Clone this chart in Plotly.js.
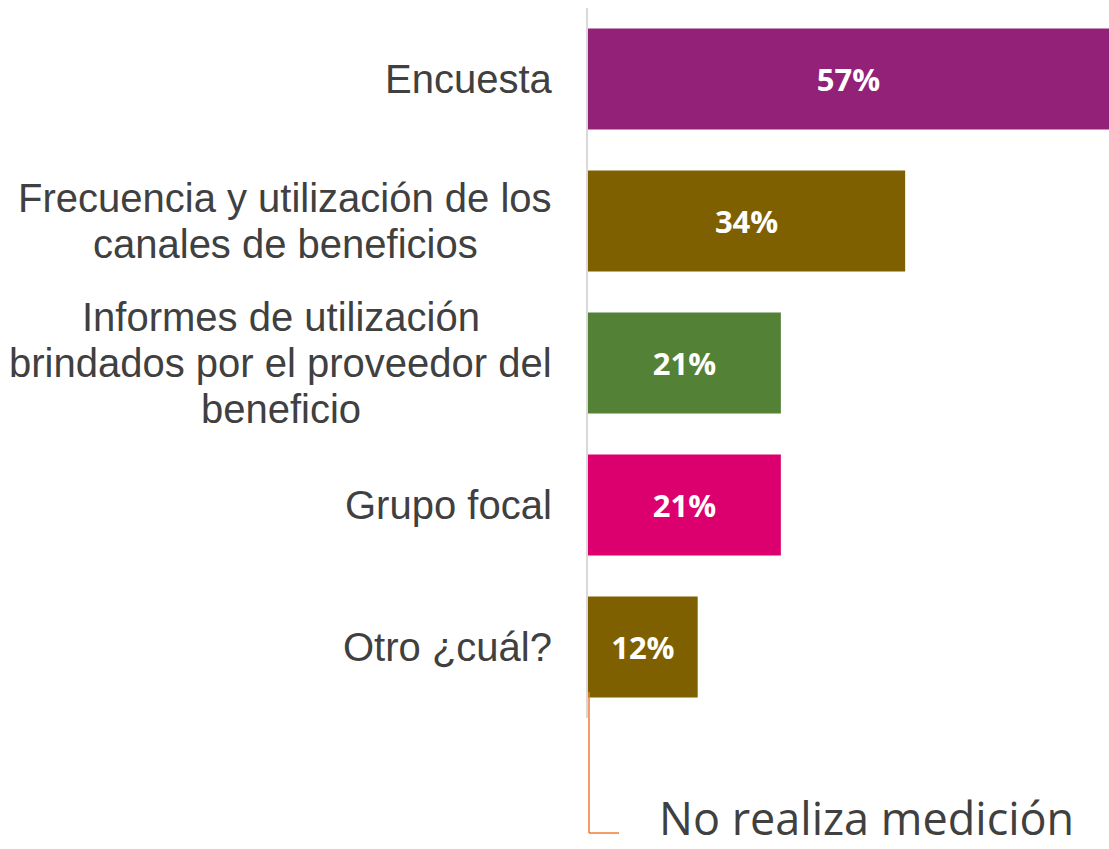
<!DOCTYPE html>
<html>
<head>
<meta charset="utf-8">
<script src="https://cdn.plot.ly/plotly-3.0.1.min.js"></script>
<style>
  html, body { margin: 0; padding: 0; background: #ffffff; }
  #chart { width: 1109px; height: 849px; }
</style>
</head>
<body>
<div id="chart"></div>
<script>
const categories = [
  "Encuesta",
  "Frecuencia y utilización de los<br>canales de beneficios",
  "Informes de utilización<br>brindados por el proveedor del<br>beneficio",
  "Grupo focal",
  "Otro ¿cuál?"
];
const values = [57, 34.7, 21.1, 21.1, 12];
const valueLabels = ["57%", "34%", "21%", "21%", "12%"];
const barColors = ["#922177", "#7F6000", "#538135", "#DB006E", "#7F6000"];
const calloutText = "No realiza medición";

const LABEL_FONT = "'Liberation Sans', Arial, sans-serif";
const LABEL_SIZE = 40;
const LINE_H = 46;
const GAP = 36;

// measure text widths so multi-line labels can be centred with tight line spacing
const cv = document.createElement("canvas");
const ctx = cv.getContext("2d");
ctx.font = LABEL_SIZE + "px " + LABEL_FONT;

const trace = {
  type: "bar",
  orientation: "h",
  y: categories,
  x: values,
  text: valueLabels,
  textposition: "inside",
  insidetextanchor: "middle",
  textangle: 0,
  textfont: { family: "'Open Sans', sans-serif", size: 31, color: "#ffffff", weight: "bold" },
  marker: { color: barColors, line: { width: 0 } },
  width: 0.71,
  hoverinfo: "none",
  cliponaxis: false
};

const catAnnotations = [];
categories.forEach(c => {
  const lines = c.split("<br>");
  const widths = lines.map(l => ctx.measureText(l).width);
  const W = Math.max.apply(null, widths);
  const n = lines.length;
  lines.forEach((l, i) => {
    catAnnotations.push({
      xref: "paper", yref: "y",
      x: 0, y: c,
      xanchor: "center", yanchor: "middle",
      xshift: -GAP - W / 2,
      yshift: -(i - (n - 1) / 2) * LINE_H,
      text: l,
      showarrow: false,
      borderpad: 0,
      font: { family: LABEL_FONT, size: LABEL_SIZE, color: "#404040" }
    });
  });
});

const layout = {
  width: 1109,
  height: 849,
  margin: { l: 588, r: 0, t: 8, b: 131 },
  paper_bgcolor: "#ffffff",
  plot_bgcolor: "#ffffff",
  showlegend: false,
  font: { family: LABEL_FONT },
  xaxis: {
    range: [0, 57],
    visible: false,
    fixedrange: true
  },
  yaxis: {
    type: "category",
    autorange: "reversed",
    showticklabels: false,
    ticks: "",
    showgrid: false,
    zeroline: false,
    showline: true,
    linecolor: "#d9d9d9",
    linewidth: 2,
    fixedrange: true
  },
  annotations: catAnnotations.concat([{
    xref: "paper", yref: "paper",
    x: 0.534, y: -0.1845,
    xanchor: "center", yanchor: "bottom",
    text: calloutText,
    showarrow: false,
    borderpad: 0,
    font: { family: "'Open Sans', sans-serif", size: 45, color: "#404040" }
  }]),
  shapes: [
    { type: "line", xref: "paper", yref: "paper", x0: 0.0019, x1: 0.0019, y0: 0.0366, y1: -0.162,
      line: { color: "#ED7D31", width: 1.5 } },
    { type: "line", xref: "paper", yref: "paper", x0: 0.0019, x1: 0.0595, y0: -0.162, y1: -0.162,
      line: { color: "#ED7D31", width: 1.5 } }
  ]
};

Plotly.newPlot("chart", [trace], layout, { displayModeBar: false, staticPlot: true });
</script>
</body>
</html>
